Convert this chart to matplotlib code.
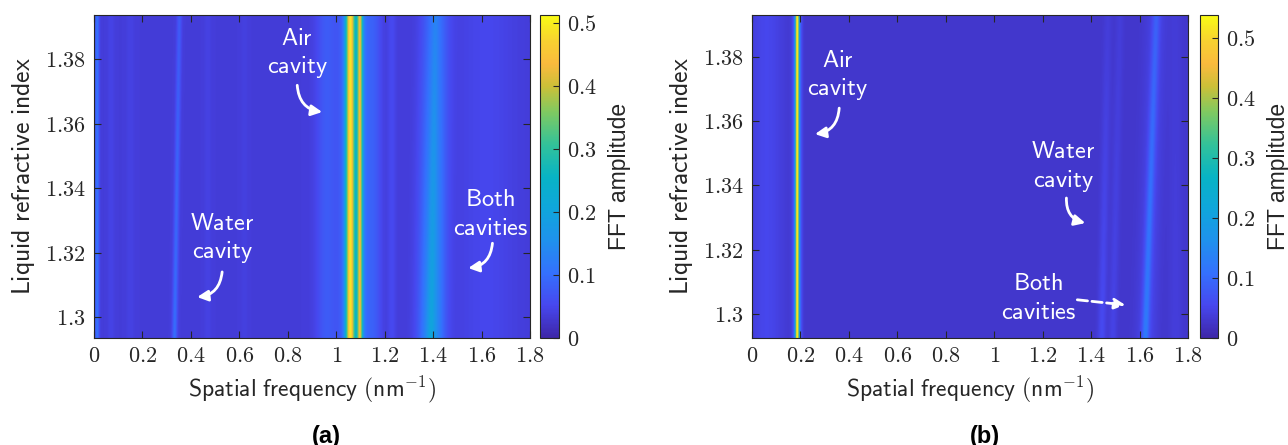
"""plot.py -- FFT amplitude maps vs liquid refractive index, panels (a) and (b)."""
import numpy as np
import matplotlib
matplotlib.use("Agg")
import matplotlib.pyplot as plt
from matplotlib.colors import LinearSegmentedColormap
from matplotlib.ticker import FuncFormatter

plt.rcParams["mathtext.fontset"] = "cm"

# parula-like colormap anchors
PARULA = [(0.00, (0.2422, 0.1504, 0.6603)), (0.10, (0.2780, 0.2800, 0.9360)),
          (0.20, (0.2050, 0.4400, 0.9950)), (0.30, (0.1230, 0.5700, 0.9300)),
          (0.40, (0.0600, 0.6500, 0.8600)), (0.50, (0.0300, 0.7050, 0.7700)),
          (0.60, (0.2000, 0.7600, 0.6000)), (0.70, (0.5000, 0.7900, 0.3800)),
          (0.78, (0.8000, 0.7500, 0.2200)), (0.85, (0.9800, 0.7300, 0.2400)),
          (0.92, (0.9700, 0.8200, 0.1900)), (1.00, (0.9769, 0.9839, 0.0805))]
CMAP = LinearSegmentedColormap.from_list("parula", PARULA)

# axis ranges
freq_lim = (0.0, 1.8)
ri_lim_a = (1.2935, 1.3937)
ri_lim_b = (1.2925, 1.3931)
x_ticks = [0, 0.2, 0.4, 0.6, 0.8, 1, 1.2, 1.4, 1.6, 1.8]
y_ticks = [1.30, 1.32, 1.34, 1.36, 1.38]
cbar_ticks = [0, 0.1, 0.2, 0.3, 0.4, 0.5]
vmax_a, vmax_b = 0.513, 0.538
bg_a, bg_b = 0.036, 0.028

# spectral peaks: centre at lowest / highest index, width, amplitude
a_center_lo = [0.012, 0.07, 0.15, 0.332, 0.47, 0.62, 0.96, 1.058, 1.098, 1.078, 1.16, 1.23, 1.395, 1.392, 1.62]
a_center_hi = [0.012, 0.07, 0.15, 0.352, 0.47, 0.62, 0.96, 1.058, 1.098, 1.078, 1.16, 1.23, 1.410, 1.410, 1.62]
a_sigma     = [0.006, 0.010, 0.012, 0.007, 0.010, 0.010, 0.030, 0.013, 0.008, 0.040, 0.020, 0.012, 0.036, 0.010, 0.080]
a_amp_lo    = [0.070, 0.010, 0.008, 0.065, 0.008, 0.006, 0.040, 0.360, 0.300, 0.110, 0.030, 0.018, 0.130, 0.040, 0.015]
a_amp_hi    = [0.070, 0.010, 0.008, 0.040, 0.008, 0.006, 0.040, 0.360, 0.300, 0.110, 0.030, 0.018, 0.075, 0.020, 0.015]

b_center_lo = [0.06, 0.186, 0.186, 1.445, 1.49, 1.625, 1.63, 1.75]
b_center_hi = [0.06, 0.186, 0.186, 1.470, 1.52, 1.670, 1.67, 1.75]
b_sigma     = [0.050, 0.005, 0.011, 0.012, 0.012, 0.010, 0.030, 0.020]
b_amp_lo    = [0.025, 0.400, 0.120, 0.030, 0.020, 0.075, 0.025, 0.012]
b_amp_hi    = [0.025, 0.400, 0.120, 0.010, 0.010, 0.040, 0.020, 0.008]

# annotations: (text, text pos, arrow start, arrow end, rad, dashed)
notes_a = [("Air\ncavity", (0.839, 1.3819), (0.839, 1.3719), (0.942, 1.3636), 0.4, False),
           ("Water\ncavity", (0.529, 1.3245), (0.529, 1.3140), (0.426, 1.3062), -0.4, False),
           ("Both\ncavities", (1.636, 1.3322), (1.645, 1.3229), (1.545, 1.3152), -0.4, False)]
notes_b = [("Air\ncavity", (0.355, 1.3744), (0.360, 1.3641), (0.260, 1.3560), -0.4, False),
           ("Water\ncavity", (1.285, 1.3458), (1.298, 1.3361), (1.376, 1.3283), 0.4, False),
           ("Both\ncavities", (1.182, 1.3050), (1.343, 1.3044), (1.541, 1.3028), 0.0, True)]

W, H = 1288, 445


def build_map(ri_lim, bg, c_lo, c_hi, sig, amp_lo, amp_hi):
    f = np.linspace(freq_lim[0], freq_lim[1], 900)
    n = np.linspace(ri_lim[0], ri_lim[1], 120)
    t = ((n - ri_lim[0]) / (ri_lim[1] - ri_lim[0]))[:, None]
    z = np.full((n.size, f.size), bg)
    for c0, c1, s, a0, a1 in zip(c_lo, c_hi, sig, amp_lo, amp_hi):
        c = c0 + (c1 - c0) * t
        a = a0 + (a1 - a0) * t
        z += a * np.exp(-(f[None, :] - c) ** 2 / (2 * s ** 2))
    return z


def mtick(v, _):
    return f"${v:g}$"


def panel(fig, rect, crect, z, ri_lim, vmax, notes, tag):
    ax = fig.add_axes(rect)
    im = ax.imshow(z, origin="lower", aspect="auto", cmap=CMAP, vmin=0, vmax=vmax,
                   extent=[freq_lim[0], freq_lim[1], ri_lim[0], ri_lim[1]],
                   interpolation="bilinear")
    ax.set_xlim(freq_lim); ax.set_ylim(ri_lim)
    ax.set_xticks(x_ticks); ax.set_yticks(y_ticks)
    ax.xaxis.set_major_formatter(FuncFormatter(mtick))
    ax.yaxis.set_major_formatter(FuncFormatter(mtick))
    ax.tick_params(direction="in", length=5, width=0.8, top=True, right=True,
                   labelsize=16, colors="0.15", pad=6)
    for s in ax.spines.values():
        s.set_color("0.15"); s.set_linewidth(0.8)
    ax.set_xlabel(r"$\mathsf{Spatial\ frequency\ (nm^{-1})}$", fontsize=17, color="0.15", labelpad=5)
    ax.set_ylabel(r"$\mathsf{Liquid\ refractive\ index}$", fontsize=18.5, color="0.15", labelpad=6)

    for txt, tp, a0, a1, rad, dashed in notes:
        lab = "\n".join(r"$\mathsf{%s}$" % w for w in txt.split("\n"))
        ax.text(tp[0], tp[1], lab, color="white", fontsize=17.5, ha="center", va="center",
                linespacing=1.25)
        ax.annotate("", xy=a1, xytext=a0,
                    arrowprops=dict(arrowstyle="-|>", color="white", lw=2,
                                    ls="--" if dashed else "-", mutation_scale=16,
                                    shrinkA=0, shrinkB=0,
                                    connectionstyle=f"arc3,rad={rad}"))

    cax = fig.add_axes(crect)
    cb = fig.colorbar(im, cax=cax, ticks=cbar_ticks)
    cb.ax.yaxis.set_major_formatter(FuncFormatter(mtick))
    cb.ax.tick_params(direction="in", length=4, width=0.8, labelsize=16, colors="0.15", pad=6)
    cb.outline.set_edgecolor("0.15"); cb.outline.set_linewidth(0.8)
    cb.set_label("FFT amplitude", fontsize=16.5, family="Liberation Sans", color="0.15", labelpad=8)

    cx = (rect[0] + crect[0] + crect[2]) / 2
    fig.text(cx, 1 - 436 / H, tag, ha="center", va="center", fontsize=17,
             fontweight="bold", family="Liberation Sans")
    return ax


def main():
    fig = plt.figure(figsize=(W / 100, H / 100), dpi=100, facecolor="white")
    za = build_map(ri_lim_a, bg_a, a_center_lo, a_center_hi, a_sigma, a_amp_lo, a_amp_hi)
    zb = build_map(ri_lim_b, bg_b, b_center_lo, b_center_hi, b_sigma, b_amp_lo, b_amp_hi)
    y0, h = 1 - 338 / H, 323 / H
    panel(fig, [94 / W, y0, 436 / W, h], [540 / W, y0, 19 / W, h], za, ri_lim_a, vmax_a, notes_a, "(a)")
    panel(fig, [752 / W, y0, 436 / W, h], [1200 / W, y0, 18 / W, h], zb, ri_lim_b, vmax_b, notes_b, "(b)")
    fig.savefig("out.png", dpi=100)


if __name__ == "__main__":
    main()
